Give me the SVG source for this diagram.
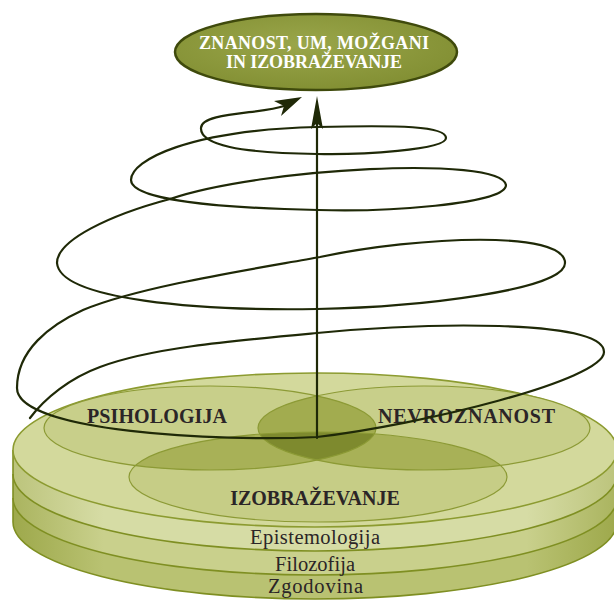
<svg xmlns="http://www.w3.org/2000/svg" width="614" height="601" viewBox="0 0 614 601">
<defs>
<style>
.lbl{font-family:"Liberation Serif","DejaVu Serif",serif;font-weight:bold;font-size:20px;fill:#2b2527}
.lay{font-family:"Liberation Serif","DejaVu Serif",serif;font-size:20.5px;fill:#2b2527}
.ttl{font-family:"Liberation Serif","DejaVu Serif",serif;font-weight:bold;font-size:18px;fill:#ffffff}
.edge{fill:none;stroke:#7f8f22;stroke-width:1.6}
.venn{fill:none;stroke:#8c9a35;stroke-width:1.2}
.wire{fill:none;stroke:#1f2907;stroke-width:2.2;stroke-linecap:round;stroke-linejoin:round}
.head{fill:#1f2907}
</style>
<linearGradient id="b1" x1="13" y1="0" x2="617" y2="0" gradientUnits="userSpaceOnUse">
<stop offset="0" stop-color="#bcc47c"/><stop offset="0.15" stop-color="#d6dca5"/><stop offset="0.85" stop-color="#d6dca5"/><stop offset="1" stop-color="#bcc47c"/>
</linearGradient>
<linearGradient id="b2" x1="13" y1="0" x2="617" y2="0" gradientUnits="userSpaceOnUse">
<stop offset="0" stop-color="#aab45f"/><stop offset="0.15" stop-color="#c9d08c"/><stop offset="0.85" stop-color="#c9d08c"/><stop offset="1" stop-color="#aab45f"/>
</linearGradient>
<linearGradient id="b3" x1="13" y1="0" x2="617" y2="0" gradientUnits="userSpaceOnUse">
<stop offset="0" stop-color="#9ea94c"/><stop offset="0.15" stop-color="#b9c272"/><stop offset="0.85" stop-color="#b9c272"/><stop offset="1" stop-color="#9ea94c"/>
</linearGradient>
<radialGradient id="topg" cx="0.45" cy="0.4" r="0.7">
<stop offset="0" stop-color="#9aa64a"/><stop offset="1" stop-color="#7f8c30"/>
</radialGradient>
<clipPath id="cP"><ellipse cx="210" cy="428" rx="166" ry="42"/></clipPath>
<clipPath id="cN"><ellipse cx="424" cy="428" rx="166" ry="42"/></clipPath>
<clipPath id="cI"><ellipse cx="318" cy="477" rx="189" ry="45"/></clipPath>
</defs>

<g id="disc">
<path d="M13,450 L13,522 A302,77 0 0 0 617,522 L617,450 Z" fill="url(#b3)"/>
<path d="M13,450 L13,498 A302,77 0 0 0 617,498 L617,450 Z" fill="url(#b2)"/>
<path d="M13,450 L13,474 A302,77 0 0 0 617,474 L617,450 Z" fill="url(#b1)"/>
<path class="edge" d="M13,450 L13,522 A302,77 0 0 0 617,522 L617,450"/>
<path class="edge" d="M13,498 A302,77 0 0 0 617,498"/>
<path class="edge" d="M13,474 A302,77 0 0 0 617,474"/>
<ellipse cx="315" cy="450" rx="302" ry="77" fill="#d3d99c" stroke="#8c9b30" stroke-width="1.6"/>
</g>

<g id="psihologija">
<ellipse cx="210" cy="428" rx="166" ry="42" fill="#c8cf8a"/>
</g>
<g id="nevroznanost">
<ellipse cx="424" cy="428" rx="166" ry="42" fill="#c8cf8a"/>
</g>
<g id="izobrazevanje">
<ellipse cx="318" cy="477" rx="189" ry="45" fill="#c6cd86"/>
</g>
<g id="overlaps">
<g clip-path="url(#cP)"><ellipse cx="424" cy="428" rx="166" ry="42" fill="#a2ac4f"/><ellipse cx="318" cy="477" rx="189" ry="45" fill="#a8b157"/></g>
<g clip-path="url(#cN)"><ellipse cx="318" cy="477" rx="189" ry="45" fill="#a8b157"/></g>
<g clip-path="url(#cP)"><g clip-path="url(#cN)"><ellipse cx="318" cy="477" rx="189" ry="45" fill="#7e8a2e"/></g></g>
<ellipse class="venn" cx="210" cy="428" rx="166" ry="42"/>
<ellipse class="venn" cx="424" cy="428" rx="166" ry="42"/>
<ellipse class="venn" cx="318" cy="477" rx="189" ry="45"/>
</g>

<g id="labels">
<text class="lbl" x="87" y="423" textLength="140">PSIHOLOGIJA</text>
<text class="lbl" x="378" y="423" textLength="177">NEVROZNANOST</text>
<text class="lbl" x="315" y="505" text-anchor="middle">IZOBRAŽEVANJE</text>
</g>
<g id="epistemologija"><text class="lay" x="250" y="544" textLength="130">Epistemologija</text></g>
<g id="filozofija"><text class="lay" x="275" y="571" textLength="80">Filozofija</text></g>
<g id="zgodovina"><text class="lay" x="268" y="593" textLength="95">Zgodovina</text></g>

<g id="goal">
<ellipse cx="316" cy="52" rx="141" ry="38" fill="url(#topg)" stroke="#3f4a0c" stroke-width="2.5"/>
<text class="ttl" x="314" y="49" textLength="230" text-anchor="middle">ZNANOST, UM, MOŽGANI</text>
<text class="ttl" x="314" y="68" textLength="176" text-anchor="middle">IN IZOBRAŽEVANJE</text>
</g>

<g id="connectors">
<path class="wire" d="M317,438 V122"/>
<polygon class="head" points="317,96 323,129 317,123 311,129"/>
<path class="wire" d="M30,418 C45,398 70,378 100,367 C150,348 230,341 317,333 C420,323 604,318 604,352 C604,380 420,425 317,437 C220,442 17,432 17,388 C17,350 50,325 83,310 C140,286 260,268 320,257 C420,236 565,230 565,263 C565,290 420,307 317,309 C200,311 60,300 57,263 C57,240 110,215 170,199 C260,168 500,155 506,185 C506,205 380,212 318,210 C220,208 131,200 131,180 C131,160 190,130 317,127 C400,125 446,126 446,138 C446,150 360,155 317,154 C240,153 200,145 201,128 C201,112 262,114 284,106"/>
<polygon class="head" points="302,97 274,101 284,106 281,116"/>
</g>
</svg>
